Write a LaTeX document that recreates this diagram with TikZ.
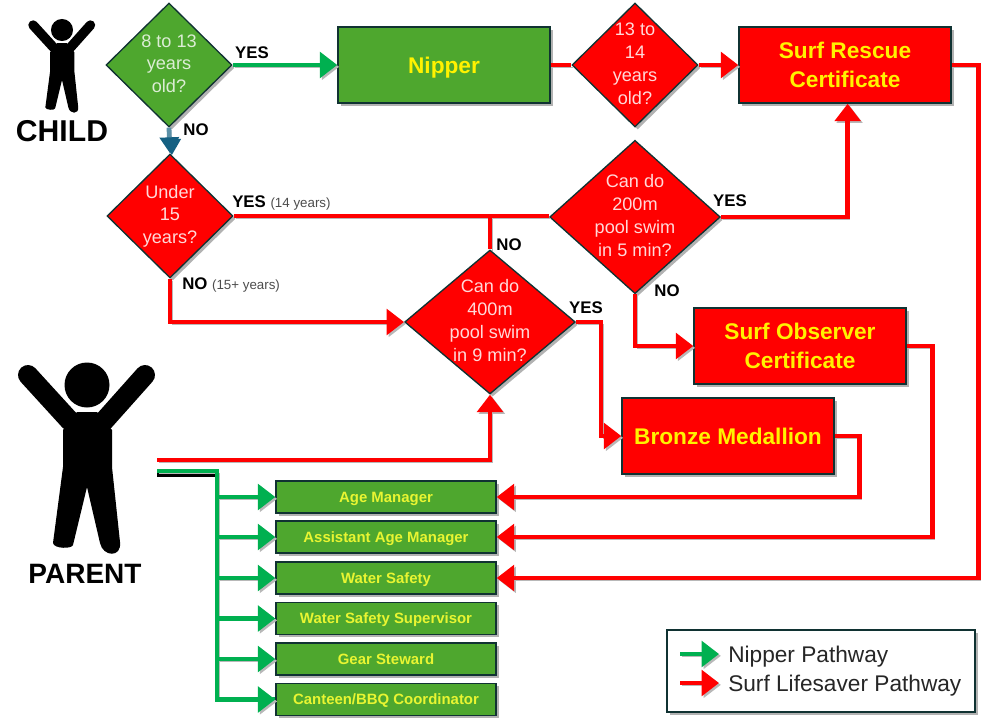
\documentclass[tikz,border=0pt]{standalone}
\usepackage{fontspec}
\setmainfont{Liberation Sans}
\usetikzlibrary{positioning,shapes.geometric,arrows.meta,shadows}

\definecolor{boxgreen}{RGB}{78,167,46}
\definecolor{linegreen}{RGB}{0,176,80}
\definecolor{boxedge}{RGB}{16,50,50}
\definecolor{noblue}{RGB}{21,96,130}
\definecolor{softyellow}{RGB}{232,245,50}

\newcommand{\qlines}[1]{\makebox[0pt]{\raisebox{-7.8pt}{\smash{\begin{tabular}{@{}c@{}}#1\end{tabular}}}}}

\tikzset{
  softshadow/.style={drop shadow={shadow xshift=2pt,shadow yshift=-2pt,opacity=0.3,fill=black}},
  question/.style={diamond,draw=boxedge,line width=1pt,inner sep=0pt,font=\fontsize{13.6}{17.2}\selectfont,softshadow},
  greenq/.style={question,fill=boxgreen,text=boxgreen!20!white},
  redq/.style={question,fill=red,text=red!15!white},
  bigbox/.style={rectangle,draw=boxedge,line width=1.1pt,minimum width=159pt,minimum height=57pt,inner sep=0pt,align=center,font=\fontsize{17}{22}\selectfont\bfseries,text=yellow,softshadow},
  rolebox/.style={rectangle,draw=boxedge,fill=boxgreen,line width=1.1pt,minimum width=165pt,minimum height=24pt,inner sep=0pt,text height=8.2pt,text depth=0pt,font=\fontsize{11.2}{13}\selectfont\bfseries,text=softyellow,softshadow},
  answer/.style={inner sep=0pt,font=\fontsize{12.6}{14}\selectfont\bfseries},
  who/.style={inner sep=0pt,font=\bfseries},
  keytext/.style={inner sep=0pt,anchor=base west,font=\fontsize{17}{20}\selectfont,text=black!85},
  flow/.style={line width=3.6pt,preaction={draw=black!28,transform canvas={xshift=1.4pt,yshift=-1.4pt}}},
  tip/.style={-{Triangle[length=13pt,width=19pt]}},
  redflow/.style={flow,draw=red},
  greenflow/.style={flow,draw=linegreen},
  pics/person/.style={code={
    \fill (0,0) circle (22.5);
    \draw[line width=#1,line cap=round] (-59,-10) -- (-17,36);
    \draw[line width=#1,line cap=round] (58,-10) -- (17,36);
    \fill (-10,27) -- (10,27) -- (25,45) -- (25,82) -- (33,157) .. controls (35,173) and (16,172) .. (13,158) -- (0,102) -- (-14,160) .. controls (-15,164) and (-33,164) .. (-34,158) -- (-24,82) -- (-24,45) -- cycle;
  }}
}

\begin{document}
\begin{tikzpicture}[x=0.75pt,y=0.75pt,yscale=-1,xscale=1]
    \useasboundingbox (0,0) rectangle (1000,725);
    %People
    \path (62,30) pic[xscale=0.49,yscale=-0.49] {person=7.2pt};
    \path (87,385) pic[yscale=-1] {person=15pt};
    \node[who,font=\fontsize{22.6}{26}\selectfont\bfseries] (child) at (62,131) {CHILD};
    \node[who,font=\fontsize{21}{24}\selectfont\bfseries] (parent) at (85,574) {PARENT};
    \coordinate (parentred) at (157,460);
    \coordinate (parentgreen) at (157,471);
    \coordinate (parentbus) at (217,471);
    %Questions
    \node[greenq,minimum width=94.5pt,minimum height=93pt] (q8) at (169,65) {\qlines{8 to 13\\years\\old?}};
    \node[redq,minimum width=94.5pt,minimum height=93pt] (q13) at (635,65) {\qlines{13 to\\14\\years\\old?}};
    \node[redq,minimum width=94.5pt,minimum height=93pt] (q15) at (170,216) {\qlines{Under\\15\\years?}};
    \node[redq,minimum width=128pt,minimum height=115pt] (q200) at (635,217) {\qlines{Can do\\200m\\pool swim\\in 5 min?}};
    \node[redq,minimum width=128pt,minimum height=108pt] (q400) at (490,322) {\qlines{Can do\\400m\\pool swim\\in 9 min?}};
    %Certificates
    \node[bigbox,fill=boxgreen,text height=12pt,text depth=0pt] (nipper) at (444,65) {Nipper};
    \node[bigbox,fill=red] (rescue) at (845,65) {Surf Rescue\\Certificate};
    \node[bigbox,fill=red] (observer) at (800,346) {Surf Observer\\Certificate};
    \node[bigbox,fill=red] (bronze) at (728,436) {Bronze Medallion};
    %Parent roles
    \node[rolebox] (age) at (386,497) {Age Manager};
    \node[rolebox] (assistant) at (386,537) {Assistant Age Manager};
    \node[rolebox] (water) at (386,578) {Water Safety};
    \node[rolebox] (supervisor) at (386,618.5) {Water Safety Supervisor};
    \node[rolebox] (gear) at (386,659) {Gear Steward};
    \node[rolebox] (canteen) at (386,699.5) {Canteen/BBQ Coordinator};
    %Child pathway
    \draw[greenflow,tip] (q8.east) -- (nipper.west);
    \draw[flow,draw=noblue!70,-{Triangle[length=12pt,width=14pt,color=noblue]}] (q8.south) -- (q15.north);
    \draw[redflow] (nipper.east) -- (q13.west);
    \draw[redflow,tip] (q13.east) -- (rescue.west);
    \draw[redflow] (q15.east) -- (q200.west |- q15.east);
    \draw[redflow] (q400.north) -- (q400.north |- q15.east);
    \draw[redflow,tip] (q200.east) -| ([xshift=2pt]rescue.south);
    \draw[redflow,tip] (q200.south) |- (observer.west);
    \draw[redflow,tip] (q15.south) |- (q400.west);
    \draw[redflow,tip] (q400.east) -- ++(25,0) |- (bronze.west);
    %Parent pathway
    \draw[redflow,tip] (parentred) -| (q400.south);
    \draw[line width=3.6pt,draw=black] ([yshift=2.6pt]parentgreen) -- ([yshift=2.6pt]parentbus);
    \draw[greenflow] (parentgreen) -- (parentbus) |- (canteen.west);
    \foreach \role in {age,assistant,water,supervisor,gear,canteen}
        \draw[greenflow,tip] (parentbus |- \role.west) -- (\role.west);
    %Back to the roles
    \draw[redflow,tip] (rescue.east) -- ++(27,0) |- (water.east);
    \draw[redflow,tip] (observer.east) -- ++(26,0) |- (assistant.east);
    \draw[redflow,tip] (bronze.east) -- ++(25,0) |- (age.east);
    %Answers
    \node[answer] (yes8) at (252,53) {YES};
    \node[answer] (no8) at (196,130) {NO};
    \node[answer,anchor=west] (yes15) at (232,203) {YES \textnormal{\fontsize{10}{12}\selectfont\color{black!70}(14 years)}};
    \node[answer,anchor=west] (no15) at (182,285) {NO \textnormal{\fontsize{10}{12}\selectfont\color{black!70}(15+ years)}};
    \node[answer] (yes200) at (730,201) {YES};
    \node[answer] (no200) at (667,291) {NO};
    \node[answer] (no400) at (509,245) {NO};
    \node[answer] (yes400) at (586,308) {YES};
    %Legend
    \node[draw=boxedge,line width=1pt,minimum width=231pt,minimum height=61.5pt,inner sep=0pt,softshadow,fill=white] (legend) at (821,671) {};
    \coordinate (keystarta) at (680,654);
    \coordinate (keyenda) at (719,654);
    \coordinate (keystartb) at (680,683);
    \coordinate (keyendb) at (719,683);
    \draw[greenflow,tip] (keystarta) -- (keyenda);
    \draw[redflow,tip] (keystartb) -- (keyendb);
    \node[keytext] (keynipper) at (728,662) {Nipper Pathway};
    \node[keytext] (keysurf) at (728,691.5) {Surf Lifesaver Pathway};
\end{tikzpicture}
\end{document}
